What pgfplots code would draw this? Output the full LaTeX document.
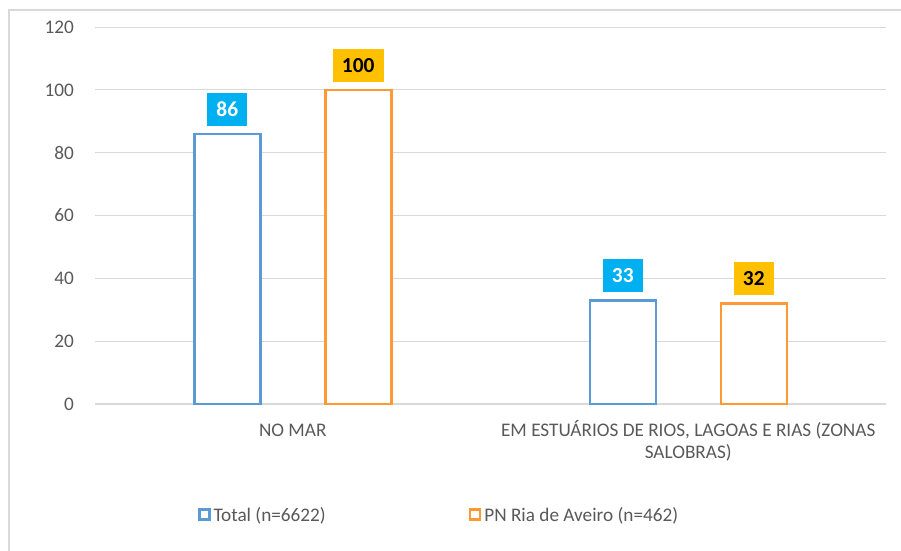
\documentclass[border=0pt]{standalone}
\usepackage{pgfplots}
\pgfplotsset{compat=1.18}
\usepackage{fontspec}
\setmainfont{Carlito}
\definecolor{tblue}{RGB}{91,155,213}
\definecolor{torange}{RGB}{255,153,51}
\definecolor{lblue}{RGB}{0,176,240}
\definecolor{lgold}{RGB}{255,192,0}
\definecolor{txtgray}{RGB}{89,89,89}
\definecolor{gridgray}{RGB}{217,217,217}
\newcommand\xs{\rule{0pt}{16bp}}
\begin{document}
\begin{tikzpicture}
\draw[gridgray, line width=2bp] (9bp,-600bp) -- (9bp,-10bp) -- (950bp,-10bp);
\begin{axis}[
  at={(95bp,-404bp)}, anchor=south west,
  scale only axis, width=791bp, height=377bp,
  ymin=0, ymax=120, ytick={0,20,...,120},
  xmin=-0.5, xmax=1.5,
  xtick={0,1},
  xticklabels={\xs NO MAR, {\xs EM ESTUÁRIOS DE RIOS, LAGOAS E RIAS (ZONAS\\SALOBRAS)}},
  ybar=65bp, bar width=66bp,
  axis lines*=left,
  separate axis lines,
  x axis line style={draw=gridgray, line width=1.3bp},
  y axis line style={draw=none},
  ymajorgrids, grid style={draw=gridgray, line width=1bp},
  tick align=inside,
  xtick style={draw=none}, ytick style={draw=none},
  extra x ticks={-0.5,0.5,1.5}, extra x tick labels={},
  extra x tick style={tick style={draw=gridgray, line width=1bp}, tick align=outside, major tick length=6bp},
  /pgf/number format/assume math mode=true,
  tick label style={font=\fontsize{19.3}{22.5}\selectfont, text=txtgray},
  yticklabel style={anchor=east, inner sep=0pt, xshift=-21bp},
  xticklabel style={anchor=north, inner sep=0pt, align=center, yshift=-16bp},
  legend columns=2,
  legend style={at={(0.130,-0.2944)}, anchor=west, draw=none, inner sep=0pt,
    font=\fontsize{19.3}{22.5}\selectfont, text=txtgray,
    nodes={inner xsep=3bp, inner ysep=0pt},
    /tikz/every even column/.append style={column sep=140bp}},
  legend image code/.code={\draw[#1, line width=2.5bp, fill=white] (0bp,-4.5bp) rectangle (10bp,5.5bp);},
  nodes near coords,
  every node near coord/.append style={anchor=south, yshift=7bp, inner xsep=9bp,
    minimum height=33bp, font=\fontsize{21.5}{24}\selectfont\bfseries},
]
\addplot[draw=tblue, fill=white, line width=2.5bp,
  every node near coord/.append style={fill=lblue, text=white}]
  coordinates {(0,86) (1,33)};
\addlegendentry{Total (n=6622)}
\addplot[draw=torange, fill=white, line width=2.5bp,
  every node near coord/.append style={fill=lgold, text=black}]
  coordinates {(0,100) (1,32)};
\addlegendentry{PN Ria de Aveiro (n=462)}
\end{axis}
\pgfresetboundingbox
\path[use as bounding box] (0,0) rectangle (901bp,-551bp);
\end{tikzpicture}
\end{document}
